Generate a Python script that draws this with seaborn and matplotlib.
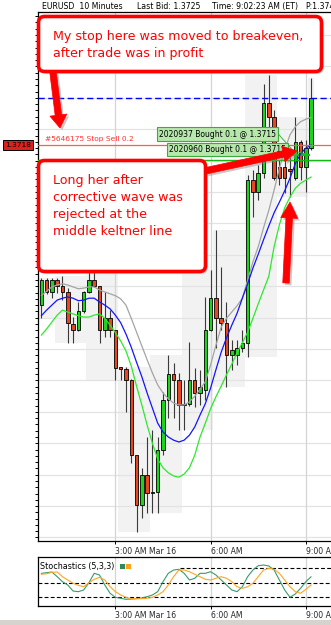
import numpy as np
import pandas as pd
import matplotlib
matplotlib.use("Agg")
import matplotlib.pyplot as plt
import matplotlib.transforms as mtransforms
import matplotlib.patheffects as pe
from matplotlib.patches import FancyBboxPatch, FancyArrow, Rectangle
import seaborn as sns

# ---------------- data (prices in pips relative to BASE) ----------------
BASE = 1.3700

open_pips = [-7.5, -3.5, -5.4, -3.5, -4.5, -5.4, -10.5, -11.5, -8.4, -5.4,
             -3.5, -4.5, -11.5, -9.6, -11.5, -17.5, -17.6, -19.4, -31.4, -39.3,
             -34.5, -37.4, -37.3, -30.6, -22.6, -18.5, -19.4, -23.4, -23.3, -19.4,
             -21.5, -21.0, -11.5, -6.4, -9.6, -10.3, -15.4, -15.4, -14.3, -13.5,
             12.4, 10.5, 13.5, 24.7, 22.4, 14.5, 14.5, 14.0, 12.7, 18.5,
             14.5, 17.5]
high_pips = [-3.2, -3.2, -3.2, -3.2, -2.9, -4.8, -9.4, -7.0, -5.3, -2.2,
             -2.2, -4.4, -5.4, -8.3, -11.4, -17.4, -17.4, -19.3, -31.3, -33.4,
             -28.5, -27.4, -28.5, -21.3, -15.4, -16.7, -18.3, -19.4, -13.4, -17.5,
             -17.8, -6.2, -1.9, 4.5, -1.4, -7.0, -13.1, -13.1, -11.5, 13.2,
             14.0, 14.8, 27.7, 29.1, 23.6, 15.6, 16.1, 16.1, 22.4, 18.8,
             18.8, 28.7]
low_pips = [-9.6, -5.7, -6.4, -5.6, -6.7, -13.5, -13.5, -11.7, -8.8, -5.6,
            -4.6, -13.5, -12.6, -12.6, -19.4, -19.4, -24.5, -32.6, -43.6, -41.4,
            -40.6, -40.6, -40.6, -31.4, -25.5, -25.5, -27.4, -27.4, -23.6, -23.7,
            -23.4, -22.6, -11.6, -14.3, -11.5, -20.5, -17.8, -17.0, -15.0, -15.8,
            6.5, 9.2, 12.7, 18.8, 12.4, 11.6, 10.3, 9.7, 12.4, 12.4,
            10.5, 17.2]
close_pips = [-3.5, -5.4, -3.5, -4.5, -5.4, -10.3, -11.5, -8.4, -5.4, -3.5,
              -4.5, -11.5, -9.6, -11.5, -17.5, -17.6, -19.4, -31.4, -39.3, -34.5,
              -37.4, -37.3, -30.6, -22.6, -18.5, -19.4, -23.4, -23.3, -19.4, -21.5,
              -20.5, -11.5, -6.4, -9.6, -10.3, -15.4, -14.6, -14.3, -13.5, 12.4,
              10.5, 13.5, 24.7, 22.4, 12.7, 12.7, 12.7, 13.9, 18.5, 14.5,
              17.5, 25.5]

keltner_upper = [-6.0, -5.3, -4.6, -4.3, -4.1, -4.3, -4.6, -4.9, -4.8, -4.6,
                 -4.6, -5.1, -5.4, -5.7, -6.0, -6.5, -7.5, -9.6, -11.8, -14.0,
                 -16.2, -18.3, -20.2, -21.5, -22.4, -23.1, -23.4, -23.4, -22.9, -22.0,
                 -20.9, -19.7, -17.0, -13.9, -11.0, -9.6, -8.6, -7.6, -6.4, -3.5,
                 -0.6, 1.8, 4.8, 7.6, 10.8, 14.3, 17.2, 19.6, 20.9, 21.7,
                 22.1, 22.4]
keltner_mid = [-9.2, -8.3, -7.5, -6.7, -6.4, -6.2, -6.4, -6.8, -6.7, -6.4,
               -6.4, -7.0, -7.5, -8.1, -9.1, -10.3, -12.1, -14.2, -16.6, -18.9,
               -21.5, -23.9, -26.3, -27.7, -28.5, -29.0, -29.3, -29.0, -28.2, -26.9,
               -25.0, -23.2, -20.7, -17.8, -15.0, -12.7, -10.7, -8.8, -6.4, -4.1,
               -1.6, 0.6, 2.9, 5.1, 7.2, 8.9, 10.7, 12.7, 15.0, 16.6,
               17.5, 18.0]
keltner_lower = [-12.3, -11.3, -10.2, -9.1, -8.3, -8.6, -8.9, -9.2, -9.4, -9.4,
                 -9.1, -8.9, -9.6, -10.7, -11.9, -13.2, -14.8, -17.2, -20.4, -23.4,
                 -26.6, -29.5, -32.0, -33.4, -34.2, -34.7, -34.9, -34.4, -33.4, -31.4,
                 -28.5, -26.3, -24.0, -22.1, -20.4, -18.6, -16.9, -15.1, -13.5, -11.8,
                 -9.6, -7.3, -5.1, -2.9, 1.8, 5.3, 8.0, 9.7, 11.1, 11.9,
                 12.4, 12.9]

stoch_green = [69.4, 70.7, 72.2, 62.3, 51.7, 44.7, 32.0, 30.6, 34.2, 49.6,
               69.4, 65.9, 44.7, 27.2, 18.7, 16.6, 14.5, 15.1, 15.8, 17.3,
               20.0, 23.6, 30.6, 51.7, 69.4, 76.4, 77.9, 69.4, 55.3, 58.9,
               69.4, 69.4, 72.8, 65.9, 55.3, 44.7, 34.2, 30.6, 41.1, 62.3,
               76.4, 85.5, 87.0, 84.9, 76.4, 55.3, 34.2, 18.7, 25.7, 37.7,
               51.7, 62.3]
stoch_orange = [67.3, 68.6, 71.5, 72.2, 62.3, 55.3, 48.3, 44.1, 41.1, 49.6,
                56.8, 61.0, 55.3, 41.1, 30.6, 23.6, 18.7, 15.8, 15.8, 15.8,
                16.6, 18.7, 23.6, 30.6, 44.7, 62.3, 76.4, 76.4, 72.8, 67.3,
                62.3, 56.8, 55.3, 58.9, 62.3, 58.9, 51.7, 41.1, 37.7, 41.1,
                48.3, 62.3, 76.4, 80.0, 77.9, 69.4, 55.3, 41.1, 30.6, 27.2,
                35.6, 44.7]

stop_pips = 18.0        # #5646175 Stop Sell 0.2 @ 1.3718
last_bid_pips = 25.5    # blue dashed line
entry_pips = 15.6       # green position line
fill_pips = 16.4
fill_bars = [48, 50]

tick_times = ["03:00", "06:00", "09:00"]
tick_labels = ["3:00 AM Mar 16", "6:00 AM", "9:00 AM"]
stoch_levels = [80, 50, 20]

# ---------------- frame ----------------
W, H = 331, 625
sns.set_style("white")
plt.rcParams["font.family"] = ["DejaVu Sans"]
fig = plt.figure(figsize=(W / 100, H / 100), dpi=100)
fig.patch.set_facecolor("white")
PX = mtransforms.Affine2D().scale(1.0 / W, -1.0 / H).translate(0, 1) + fig.transFigure


def frac(x0, y0, x1, y1):
    return [x0 / W, 1 - y1 / H, (x1 - x0) / W, (y1 - y0) / H]


def price(p):
    return BASE + np.asarray(p, dtype=float) / 1e4


n = len(open_pips)
idx = np.arange(n)
times = pd.date_range("2010-03-16 00:40", periods=n, freq="10min")
df = pd.DataFrame({"idx": idx, "time": times,
                   "open": price(open_pips), "high": price(high_pips),
                   "low": price(low_pips), "close": price(close_pips)})
df["hour"] = (df["time"] - pd.Timedelta(minutes=10)).dt.floor("h")
tick_idx = [int(np.where(times.strftime("%H:%M") == t)[0][0]) for t in tick_times]

XLIM = (-0.72, 57.4)

# ---------------- main price panel ----------------
ax = fig.add_axes(frac(37.5, 12, 345, 541))
ax.set_xlim(*XLIM)
ax.set_ylim(price(-45.06), price(39.17))
ax.set_facecolor("white")

for _, g in df.groupby("hour"):
    ax.add_patch(Rectangle((g["idx"].min() - 0.5, g["low"].min()),
                           g["idx"].max() - g["idx"].min() + 1,
                           g["high"].max() - g["low"].min(),
                           facecolor="#F2F2F2", edgecolor="none", zorder=0.5))

for p in np.arange(-44.5, 39.0, 5.0):
    ax.axhline(price(p), color="#E3E3E3", lw=0.9, zorder=1)
for t in tick_idx:
    ax.axvline(t, color="#D4D4D4", lw=0.9, zorder=1)

up = (df["close"] >= df["open"]).values
ax.vlines(idx, df["low"], df["high"], color="#3A3A3A", lw=0.8, zorder=3)
body_lo = np.minimum(df["open"], df["close"])
body_h = np.maximum((df["close"] - df["open"]).abs(), 0.00002)
ax.bar(idx, body_h, bottom=body_lo, width=0.66,
       color=np.where(up, "#1CD41C", "#E8461E"), edgecolor="black",
       linewidth=0.6, zorder=4)

sns.lineplot(x=idx, y=price(keltner_upper), color="#A4A4A4", lw=0.9, ax=ax, zorder=5)
sns.lineplot(x=idx, y=price(keltner_mid), color="#1414FF", lw=0.9, ax=ax, zorder=5)
sns.lineplot(x=idx, y=price(keltner_lower), color="#2EE82E", lw=0.9, ax=ax, zorder=5)

ax.axhline(price(stop_pips), color="#FF5A5A", lw=0.9, zorder=6)
ax.axhline(price(last_bid_pips), color="#0000FF", lw=1.0, dashes=(4.5, 2.5), zorder=6)
ax.axhline(price(entry_pips), color="#14B814", lw=1.0, zorder=6)
ax.plot(fill_bars, price([fill_pips] * len(fill_bars)), ls="none", marker="+",
        ms=6, mew=1.6, color="#10C010", zorder=7)

ax.spines["right"].set_visible(False)
for s in ["left", "bottom", "top"]:
    ax.spines[s].set_color("black")
    ax.spines[s].set_linewidth(0.9)
ax.set_yticks(price(np.arange(-44.5, 39.2, 1.0)))
ax.tick_params(axis="y", left=True, length=2.5, width=0.7, direction="out",
               labelleft=False, color="black")
ax.set_xticks(tick_idx)
ax.set_xticklabels(tick_labels, ha="left", fontsize=5.6)
ax.tick_params(axis="x", bottom=True, length=2, width=0.7, pad=2, color="black")
ax.set_xlabel("")
ax.set_ylabel("")

# ---------------- stochastics panel ----------------
ax2 = fig.add_axes(frac(37.5, 557, 345, 605.5))
ax2.set_xlim(*XLIM)
ax2.set_ylim(1.4, 103.9)
for t in tick_idx:
    ax2.axvline(t, color="#D4D4D4", lw=0.9, zorder=1)
ax2.hlines(stoch_levels[0], 26.2, XLIM[1], color="black", lw=0.8,
           linestyles=(0, (3.5, 2)), zorder=2)
for lv in stoch_levels[1:]:
    ax2.axhline(lv, color="black", lw=0.8, ls=(0, (3.5, 2)), zorder=2)
sns.lineplot(x=idx, y=stoch_green, color="#3A9A6A", lw=0.8, ax=ax2, zorder=3)
sns.lineplot(x=idx, y=stoch_orange, color="#FFA424", lw=0.8, ax=ax2, zorder=3)
ax2.spines["right"].set_visible(False)
for s in ["left", "bottom", "top"]:
    ax2.spines[s].set_color("black")
    ax2.spines[s].set_linewidth(0.9)
ax2.set_yticks([])
ax2.set_xticks(tick_idx)
ax2.set_xticklabels(tick_labels, ha="left", fontsize=5.6)
ax2.tick_params(axis="x", bottom=True, length=2, width=0.7, pad=2, color="black")
ax2.set_xlabel("")
ax2.set_ylabel("")

# ---------------- overlays (figure pixel coordinates) ----------------
RED = "#FF0000"
shadow = [pe.SimplePatchShadow(offset=(1.6, -1.6), shadow_rgbFace="#8A8A8A", alpha=0.45), pe.Normal()]

# header
for x, s in [(41.5, "EURUSD  10 Minutes"), (136.7, "Last Bid: 1.3725"),
             (211.7, "Time: 9:02:23 AM (ET)"), (305, "P:1.3745")]:
    fig.text(x, 6.2, s, transform=PX, fontsize=5.6, va="center", ha="left", color="black")

# stop order text & price tag
fig.text(45, 138.5, "#5646175 Stop Sell 0.2", transform=PX, fontsize=5.4,
         va="center", color="#FF3030", zorder=8)
fig.add_artist(Rectangle((2.7, 140), 30, 9.5, transform=PX, facecolor="#E0201A",
                         edgecolor="black", lw=0.7, zorder=8))
fig.text(17.7, 144.9, "1.3718", transform=PX, fontsize=5.4, va="center",
         ha="center", color="black", zorder=9)

# trade labels
for (x0, y0, x1, y1, s, tip) in [(156.7, 127.3, 278.3, 140.7, "2020937 Bought 0.1 @ 1.3715", (296, 154)),
                                  (166.7, 143.3, 288.3, 156.0, "2020960 Bought 0.1 @ 1.3715", (306, 154))]:
    fig.add_artist(plt.Line2D([x1, tip[0]], [(y0 + y1) / 2, tip[1]], transform=PX,
                              color="#40B040", lw=0.7, zorder=8))
    fig.add_artist(Rectangle((x0, y0), x1 - x0, y1 - y0, transform=PX, facecolor="#B6E8AC",
                             edgecolor="#3CAA3C", lw=0.8, zorder=9))
    fig.text(x0 + 2.5, (y0 + y1) / 2 + 0.3, s, transform=PX, fontsize=5.5, va="center",
             ha="left", color="black", zorder=10)

# callout boxes
for (x0, y0, x1, y1) in [(38.5, 16.5, 321.5, 71.5), (38.5, 160.5, 205.5, 271.5)]:
    fig.add_artist(FancyBboxPatch((x0, y0), x1 - x0, y1 - y0,
                                  boxstyle="round,pad=0,rounding_size=6",
                                  transform=PX, facecolor="white", edgecolor=RED,
                                  lw=2.6, zorder=11, path_effects=shadow))
fig.text(53, 44.8, "My stop here was moved to breakeven,\nafter trade was in profit",
         transform=PX, fontsize=9.1, color=RED, va="center", ha="left",
         linespacing=1.37, zorder=12)
fig.text(53, 206, "Long her after\ncorrective wave was\nrejected at the\nmiddle keltner line",
         transform=PX, fontsize=9.1, color=RED, va="center", ha="left",
         linespacing=1.37, zorder=12)

# arrows
for (x0, y0, x1, y1, w, hw, hl) in [(53, 72, 60, 128, 6.5, 17, 13),
                                     (205, 171, 297, 151, 6.5, 16, 14),
                                     (286, 283, 290, 202, 6.5, 17, 16)]:
    fig.add_artist(FancyArrow(x0, y0, x1 - x0, y1 - y0, width=w, head_width=hw,
                              head_length=hl, length_includes_head=True, transform=PX,
                              facecolor=RED, edgecolor=RED, lw=0.5, zorder=13,
                              path_effects=shadow))

# stochastics label
fig.text(40, 566.7, "Stochastics (5,3,3)", transform=PX, fontsize=5.8, va="center",
         ha="left", color="black", zorder=8)
fig.add_artist(Rectangle((119.5, 564), 5, 5, transform=PX, facecolor="#2E8B57",
                         edgecolor="none", zorder=8))
fig.add_artist(Rectangle((125.5, 564), 5, 5, transform=PX, facecolor="#FFA020",
                         edgecolor="none", zorder=8))

# window strip at bottom
fig.add_artist(Rectangle((0, 620), W, 5, transform=PX, facecolor="#D6D3CE",
                         edgecolor="none", zorder=8))

fig.savefig("out.png", dpi=100)
